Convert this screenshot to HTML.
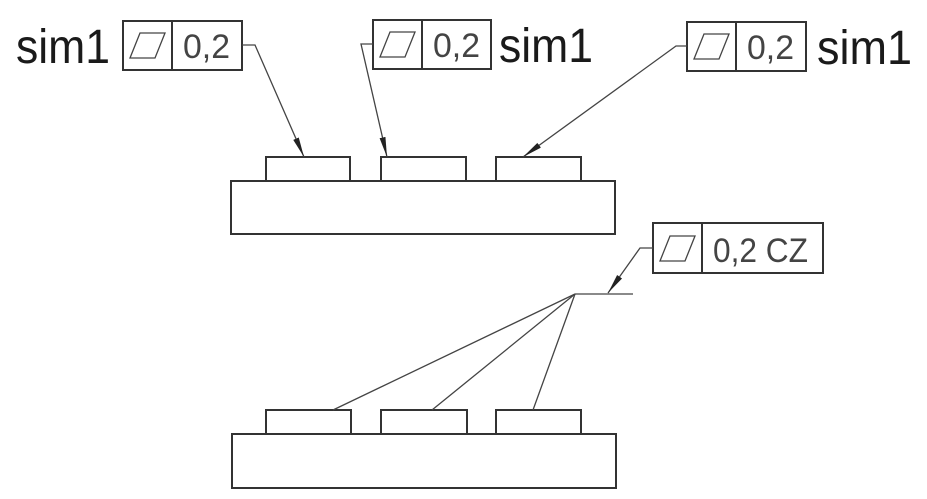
<!DOCTYPE html>
<html><head><meta charset="utf-8"><style>
html,body{margin:0;padding:0;background:#fff;}
svg{display:block;}
</style></head><body>
<svg width="927" height="499" viewBox="0 0 927 499" xmlns="http://www.w3.org/2000/svg">
<defs>
<marker id="ah" viewBox="0 0 20 8" refX="20" refY="4" markerWidth="20" markerHeight="8" markerUnits="userSpaceOnUse" orient="auto">
<path d="M0,1 L20,4 L0,7 Z" fill="#222"/>
</marker>
</defs>
<g fill="none" stroke="#333" stroke-width="2">
<!-- top part -->
<rect x="266" y="157" width="84" height="24"/>
<rect x="381" y="157" width="85" height="24"/>
<rect x="496" y="157" width="85" height="24"/>
<rect x="231" y="181" width="384" height="53"/>
<!-- bottom part -->
<rect x="266" y="410" width="85" height="24"/>
<rect x="381" y="410" width="86" height="24"/>
<rect x="496" y="410" width="85" height="24"/>
<rect x="232" y="434" width="384" height="54"/>
<!-- frames -->
<rect x="123" y="21" width="119" height="49"/><line x1="172" y1="21" x2="172" y2="70"/>
<rect x="373" y="20" width="118" height="49"/><line x1="422" y1="20" x2="422" y2="69"/>
<rect x="687" y="22" width="119" height="49"/><line x1="736" y1="22" x2="736" y2="71"/>
<rect x="653" y="223" width="170" height="50"/><line x1="702" y1="223" x2="702" y2="273"/>
</g>
<g fill="none" stroke="#444" stroke-width="1.3">
<path d="M130,58 L155,58 L165,33 L140,33 Z"/>
<path d="M380,57 L405,57 L415,32 L390,32 Z"/>
<path d="M694,59 L719,59 L729,34 L704,34 Z"/>
<path d="M660,261 L685,261 L695,236 L670,236 Z"/>
</g>
<g fill="none" stroke="#444" stroke-width="1.3">
<polyline points="242,45 255,45 304,157" marker-end="url(#ah)"/>
<polyline points="373,44 361,44 387,157" marker-end="url(#ah)"/>
<polyline points="687,46 676,46 523,157" marker-end="url(#ah)"/>
<polyline points="653,248 640,248 608,293" marker-end="url(#ah)"/>
<line x1="575" y1="294" x2="633" y2="294"/>
<line x1="575" y1="294" x2="333" y2="410"/>
<line x1="575" y1="294" x2="432" y2="410"/>
<line x1="575" y1="294" x2="533" y2="410"/>
</g>
<g font-family="Liberation Sans, sans-serif">
<text x="16" y="63" font-size="48" fill="#1a1a1a" textLength="94" lengthAdjust="spacingAndGlyphs">sim1</text>
<text x="499" y="62" font-size="48" fill="#1a1a1a" textLength="94" lengthAdjust="spacingAndGlyphs">sim1</text>
<text x="817" y="64" font-size="48" fill="#1a1a1a" textLength="95" lengthAdjust="spacingAndGlyphs">sim1</text>
<text x="183" y="58" font-size="34" fill="#444" textLength="47" lengthAdjust="spacingAndGlyphs">0,2</text>
<text x="433" y="57" font-size="34" fill="#444" textLength="47" lengthAdjust="spacingAndGlyphs">0,2</text>
<text x="747" y="59" font-size="34" fill="#444" textLength="47" lengthAdjust="spacingAndGlyphs">0,2</text>
<text x="713" y="262" font-size="34" fill="#444" textLength="95" lengthAdjust="spacingAndGlyphs">0,2 CZ</text>
</g>
</svg>
</body></html>
